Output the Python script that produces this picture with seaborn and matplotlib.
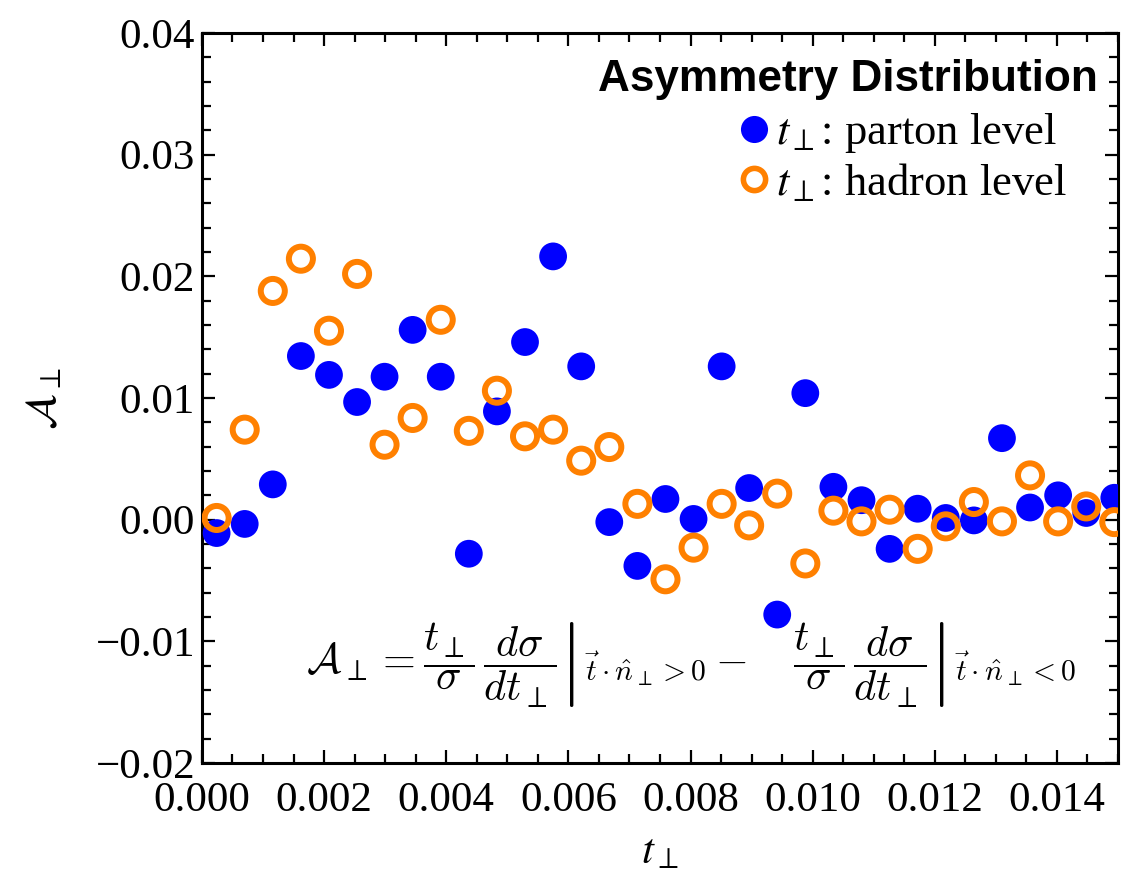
import numpy as np
import pandas as pd
import matplotlib
matplotlib.use("Agg")
import matplotlib.pyplot as plt
from matplotlib.lines import Line2D
from matplotlib.ticker import MultipleLocator
import seaborn as sns

# ---- data ----
t_perp = [0.00024, 0.00070, 0.00116, 0.00162, 0.00208, 0.00254, 0.00299, 0.00345,
          0.00391, 0.00437, 0.00483, 0.00529, 0.00575, 0.00621, 0.00667, 0.00713,
          0.00759, 0.00805, 0.00851, 0.00896, 0.00942, 0.00988, 0.01034, 0.01080,
          0.01126, 0.01172, 0.01218, 0.01264, 0.01310, 0.01356, 0.01402, 0.01448,
          0.01494]
parton = [-0.0011, -0.00035, 0.0029, 0.01345, 0.0119, 0.00967, 0.01175, 0.0156,
          0.01175, -0.0028, 0.0089, 0.0146, 0.02164, 0.0126, -0.0002, -0.0038,
          0.0017, 0.00006, 0.0126, 0.0026, -0.0078, 0.0104, 0.0027, 0.0016,
          -0.0024, 0.0009, 0.00014, -0.00006, 0.0067, 0.0010, 0.0020, 0.00055,
          0.0018]
hadron = [0.00014, 0.0074, 0.0188, 0.02145, 0.01553, 0.0202, 0.00616, 0.00836,
          0.01643, 0.0073, 0.0106, 0.00685, 0.0074, 0.00485, 0.00597, 0.0013,
          -0.0049, -0.0023, 0.0013, -0.00047, 0.00214, -0.0036, 0.00074, -0.00014,
          0.00082, -0.0024, -0.00055, 0.00145, -0.00014, 0.00364, -0.00014, 0.00109,
          -0.0002]
x_ticks = [0.000, 0.002, 0.004, 0.006, 0.008, 0.010, 0.012, 0.014]
x_ticklabels = ["0.000", "0.002", "0.004", "0.006", "0.008", "0.010", "0.012", "0.014"]
y_ticks = [-0.02, -0.01, 0.00, 0.01, 0.02, 0.03, 0.04]
y_ticklabels = ["\u22120.02", "\u22120.01", "0.00", "0.01", "0.02", "0.03", "0.04"]
series_labels = [r"$t_\perp$: parton level", r"$t_\perp$: hadron level"]
title_text = "Asymmetry Distribution"

BLUE = "#0000ff"
ORANGE = "#ff8000"

sns.set_theme(style="ticks")
plt.rcParams["font.family"] = ["Liberation Serif", "DejaVu Serif"]
plt.rcParams["mathtext.fontset"] = "stix"
plt.rcParams["text.color"] = "black"
plt.rcParams["axes.labelcolor"] = "black"
plt.rcParams["xtick.color"] = "black"
plt.rcParams["ytick.color"] = "black"

df = pd.DataFrame({"t": t_perp, "parton": parton, "hadron": hadron})

fig = plt.figure(figsize=(11.27, 8.76), dpi=100)
ax = fig.add_axes([0.1792, 0.129, 0.8128, 0.8333])

sns.scatterplot(data=df, x="t", y="parton", ax=ax, s=400, color=BLUE,
                edgecolor="none", linewidth=0, zorder=3)
sns.scatterplot(data=df, x="t", y="hadron", ax=ax, s=300, facecolor="none",
                edgecolor=ORANGE, linewidth=4.3, zorder=4)

ax.set_xlim(0, 0.015)
ax.set_ylim(-0.02, 0.04)
ax.set_xticks(x_ticks)
ax.set_xticklabels(x_ticklabels)
ax.set_yticks(y_ticks)
ax.set_yticklabels(y_ticklabels)
ax.xaxis.set_minor_locator(MultipleLocator(0.0005))
ax.yaxis.set_minor_locator(MultipleLocator(0.002))
ax.tick_params(which="both", direction="in", top=True, right=True,
               color="black", labelcolor="black")
ax.tick_params(which="major", length=9.5, width=1.6, labelsize=31)
ax.tick_params(axis="x", which="major", pad=13)
ax.tick_params(axis="y", which="major", pad=5)
ax.tick_params(which="minor", length=6.5, width=1.6)
for sp in ax.spines.values():
    sp.set_linewidth(2.2)
    sp.set_color("black")
    sp.set_visible(True)

ax.set_xlabel(r"$t_\perp$", fontsize=31, labelpad=10, color="black")
ax.set_ylabel(r"$\mathcal{A}_\perp$", fontsize=31, labelpad=22, color="black")

ax.text(0.978, 0.9205, title_text, transform=ax.transAxes, ha="right",
        va="baseline", fontsize=31.8, fontweight="bold", color="black",
        family=["Liberation Sans", "DejaVu Sans"])

handles = [
    Line2D([], [], ls="none", marker="o", markersize=19.5, markerfacecolor=BLUE,
           markeredgecolor="none"),
    Line2D([], [], ls="none", marker="o", markersize=16, markerfacecolor="none",
           markeredgecolor=ORANGE, markeredgewidth=4.0),
]
leg = ax.legend(handles, series_labels, loc="upper right", bbox_to_anchor=(0.944, 0.893),
                frameon=False, fontsize=32, handlelength=0.6, handletextpad=0.2,
                labelspacing=0.15, borderpad=0, borderaxespad=0)
for txt in leg.get_texts():
    txt.set_color("black")

formula = (r"$\mathcal{A}_\perp = \left.\dfrac{t_\perp}{\sigma}\,\dfrac{d\sigma}{dt_\perp}\right|_{\vec{t}\cdot\hat{n}_\perp>0}"
           r" - \quad \left.\dfrac{t_\perp}{\sigma}\,\dfrac{d\sigma}{dt_\perp}\right|_{\vec{t}\cdot\hat{n}_\perp<0}$")
ax.text(0.534, 0.134, formula, transform=ax.transAxes, ha="center", va="center",
        fontsize=30.5, math_fontfamily="cm", color="black")

fig.savefig("out.png", dpi=100)
